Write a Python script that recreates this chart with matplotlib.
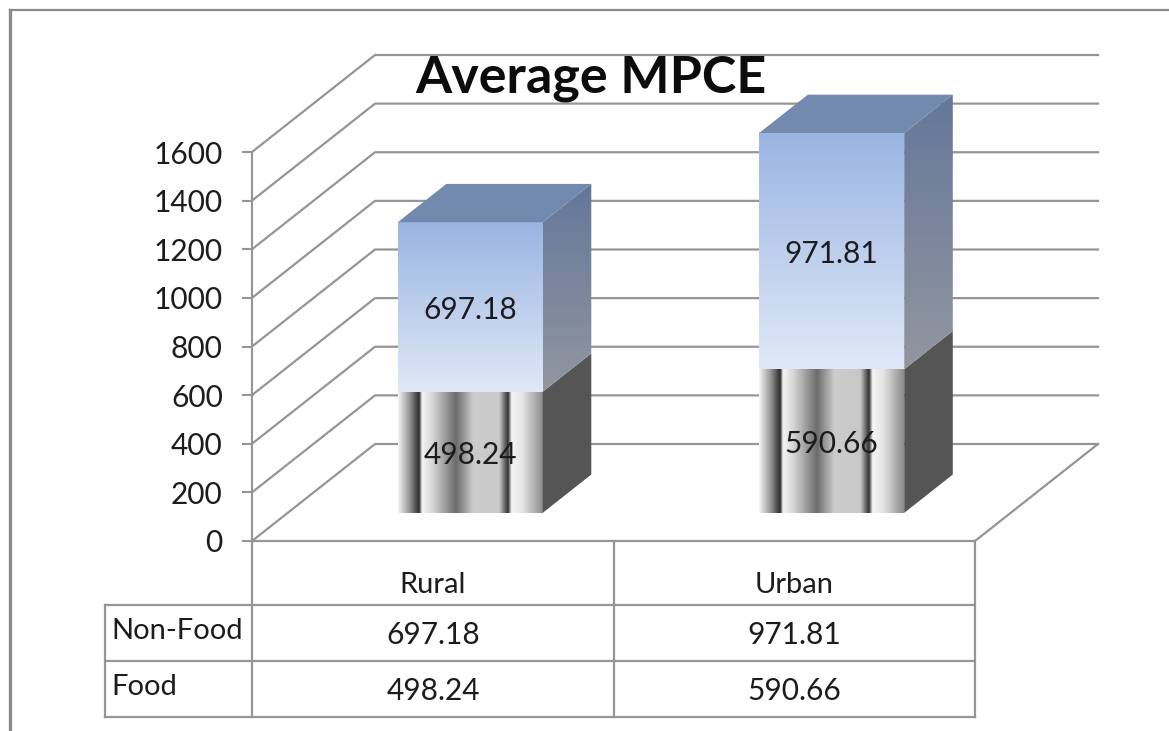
import numpy as np
import matplotlib
matplotlib.use("Agg")
import matplotlib.pyplot as plt
from matplotlib.colors import LinearSegmentedColormap
from matplotlib.patches import Polygon

plt.rcParams["font.family"] = ["Lato", "DejaVu Sans"]

# data
categories = ["Rural", "Urban"]
series_names = ["Non-Food", "Food"]
food = [498.24, 590.66]
non_food = [697.18, 971.81]
y_ticks = [0, 200, 400, 600, 800, 1000, 1200, 1400, 1600]

W, H = 1169, 731
GRID = "#959595"
TEXT = "#1c1c1c"

fig = plt.figure(figsize=(W / 100, H / 100), dpi=100, facecolor="white")

# overlay in pixels for the frame and the data table
bg = fig.add_axes([0, 0, 1, 1])
bg.set_xlim(0, W)
bg.set_ylim(H, 0)
bg.axis("off")
bg.plot([W, 9.5], [10, 10], color="#8a8a8a", lw=1.6)
bg.plot([9.5, 9.5], [10, H], color="#8a8a8a", lw=2.4)

# front plane of the 3d box
left, right, bottom, top = 252, 975, 541, 152
ax = fig.add_axes([left / W, 1 - bottom / H, (right - left) / W, (bottom - top) / H])
ax.patch.set_alpha(0)
ax.set_xlim(0, len(categories))
ax.set_ylim(0, 1600)
for s in ["top", "right", "bottom"]:
    ax.spines[s].set_visible(False)
ax.spines["left"].set_color(GRID)
ax.spines["left"].set_linewidth(1.5)
ax.set_xticks([])
ax.set_yticks(y_ticks)
ax.tick_params(axis="y", length=7, width=1.5, color=GRID, pad=14, labelsize=21.5, labelcolor=TEXT)

# depth of the box in data units
depth_x = 123 / 361.5
depth_y = 97 / 389 * 1600
bar_front = 0.29
bar_depth = 0.395
bar_w = 0.401

for t in y_ticks:
    ax.plot([0, depth_x, len(categories) + depth_x], [t, t + depth_y, t + depth_y],
            color=GRID, lw=1.6, clip_on=False, zorder=1)
ax.plot([0, len(categories), len(categories) + depth_x], [0, 0, depth_y],
        color=GRID, lw=1.6, clip_on=False, zorder=1)

steel = LinearSegmentedColormap.from_list("steel", [
    (0.00, "#f4f4f4"), (0.08, "#949494"), (0.145, "#2c2c2c"), (0.165, "#f4f4f4"),
    (0.24, "#d4d4d4"), (0.40, "#6c6c6c"), (0.52, "#cccccc"), (0.70, "#c8c8c8"),
    (0.76, "#303030"), (0.785, "#f6f6f6"), (0.86, "#e4e4e4"), (1.00, "#8c8c8c")])
blue = LinearSegmentedColormap.from_list("blue", ["#9ab5e3", "#dfe8f6"])
side = LinearSegmentedColormap.from_list("side", ["#64779a", "#92969f"])
ramp = np.linspace(0, 1, 256)

dx = bar_depth * depth_x
dy = bar_depth * depth_y
for i, cat in enumerate(categories):
    x0 = i + 0.5 + bar_front * depth_x + 0.005 - bar_w / 2
    x1 = x0 + bar_w
    base = bar_front * depth_y
    y1 = base + food[i]
    y2 = y1 + non_food[i]

    # front faces
    ax.imshow(ramp[None, :], cmap=steel, extent=[x0, x1, base, y1], aspect="auto",
              zorder=3, clip_on=False, interpolation="bilinear")
    ax.imshow(ramp[:, None], cmap=blue, extent=[x0, x1, y1, y2], aspect="auto",
              zorder=3, clip_on=False)

    # side faces
    ax.add_patch(Polygon([(x1, base), (x1 + dx, base + dy), (x1 + dx, y1 + dy), (x1, y1)],
                         closed=True, fc="#555555", ec="none", zorder=3, clip_on=False))
    poly = Polygon([(x1, y1), (x1 + dx, y1 + dy), (x1 + dx, y2 + dy), (x1, y2)],
                   closed=True, fc="none", ec="none", transform=ax.transData)
    ax.add_patch(poly)
    im = ax.imshow(ramp[:, None], cmap=side, extent=[x1, x1 + dx, y1, y2 + dy], aspect="auto", zorder=3)
    im.set_clip_path(poly)
    im.set_clip_box(fig.bbox)

    # top face
    ax.add_patch(Polygon([(x0, y2), (x0 + dx, y2 + dy), (x1 + dx, y2 + dy), (x1, y2)],
                         closed=True, fc="#7389ad", ec="none", zorder=3, clip_on=False))

    # value labels
    ax.text((x0 + x1) / 2, base + food[i] / 2 - 12, f"{food[i]:.2f}", ha="center", va="center",
            fontsize=21.5, color=TEXT, zorder=5)
    ax.text((x0 + x1) / 2, y1 + non_food[i] / 2 - 12, f"{non_food[i]:.2f}", ha="center", va="center",
            fontsize=21.5, color=TEXT, zorder=5)

ax.set_xlim(0, len(categories))
ax.set_ylim(0, 1600)

# data table under the chart
col_x = [105, 252, 614, 975]
row_y = [541, 605, 661, 717]
for x in col_x[1:]:
    bg.plot([x, x], [row_y[0], row_y[-1]], color=GRID, lw=1.6)
bg.plot([col_x[0], col_x[0]], [row_y[1], row_y[-1]], color=GRID, lw=1.6)
for y in row_y[1:]:
    bg.plot([col_x[0], col_x[-1]], [y, y], color=GRID, lw=1.6)

rows = [non_food, food]
for j, cat in enumerate(categories):
    xc = (col_x[j + 1] + col_x[j + 2]) / 2
    bg.text(xc, 585, cat, ha="center", va="center", fontsize=21, color=TEXT)
    for r, vals in enumerate(rows):
        bg.text(xc, (row_y[r + 1] + row_y[r + 2]) / 2 + 2, f"{vals[j]:.2f}", ha="center", va="center",
                fontsize=21.5, color=TEXT)
for r, name in enumerate(series_names):
    bg.text(111, (row_y[r + 1] + row_y[r + 2]) / 2 - 2, name, ha="left", va="center", fontsize=21, color=TEXT)

bg.set_xlim(0, W)
bg.set_ylim(H, 0)

fig.text(591 / W, 1 - 78 / H, "Average MPCE", ha="center", va="center", fontsize=37.5,
         fontweight="bold", color="#0c0c0c", zorder=10)

plt.savefig("out.png", dpi=100)
